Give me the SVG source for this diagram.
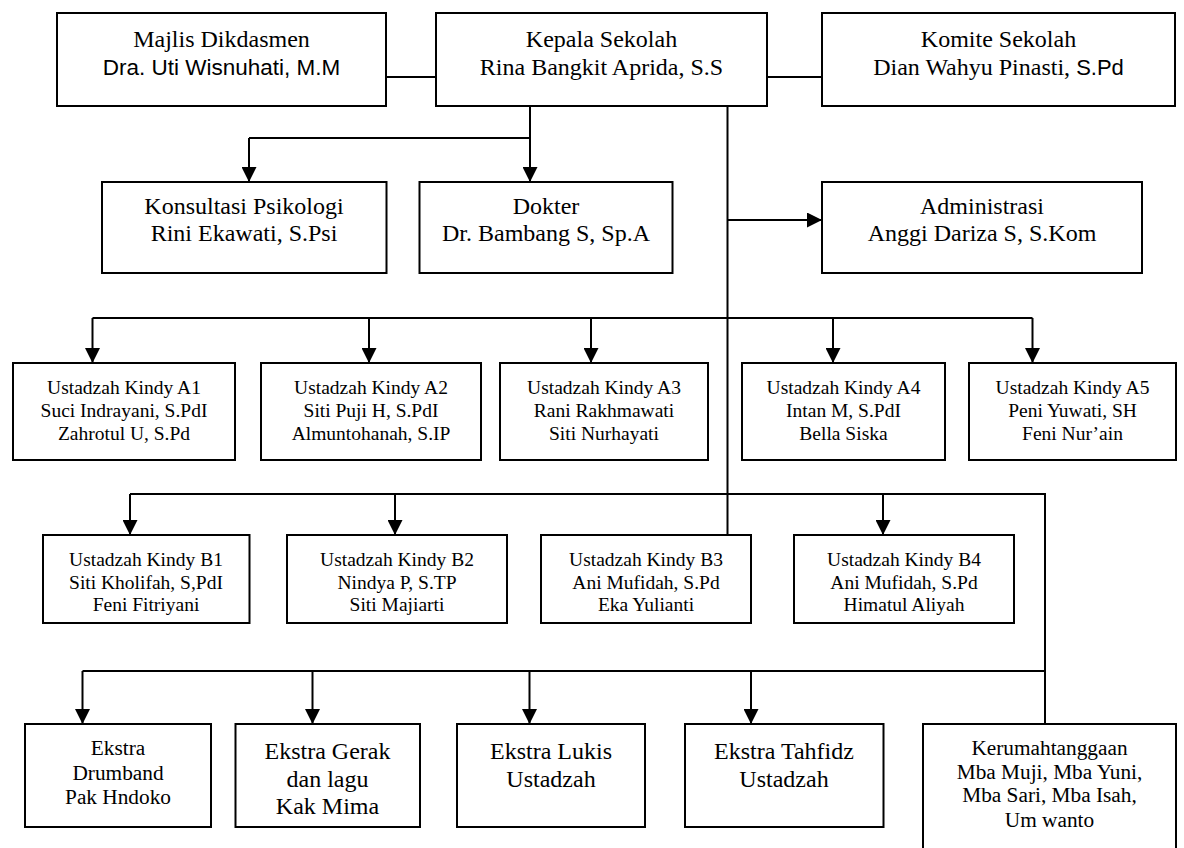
<svg xmlns="http://www.w3.org/2000/svg" width="1184" height="848" viewBox="0 0 1184 848">
  <style>
    .box { fill: #ffffff; stroke: #000000; stroke-width: 2; }
    .ln { fill: none; stroke: #000000; stroke-width: 2; }
    .arr { fill: none; stroke: #000000; stroke-width: 2; marker-end: url(#head); }
    text { font-family: "Liberation Serif", "Times New Roman", serif; fill: #000000; text-anchor: middle; }
    .t24 { font-size: 24px; }
    .t195 { font-size: 19.5px; }
    .t21 { font-size: 21.3px; }
    .sans { font-family: "Liberation Sans", Arial, sans-serif; }
  </style>
  <defs>
    <marker id="head" markerUnits="userSpaceOnUse" markerWidth="15" markerHeight="15" viewBox="0 0 15 15" refX="15" refY="7.5" orient="auto">
      <path d="M0,0 L15,7.5 L0,15 Z" fill="#000000"/>
    </marker>
  </defs>
  <rect width="1184" height="848" fill="#ffffff"/>

  <!-- connectors -->
  <g id="connectors">
    <path class="ln" d="M386,77 H436"/>
    <path class="ln" d="M767,77 H822"/>
    <path class="ln" d="M530,106 V138 H249"/>
    <path class="arr" d="M249,138 V182"/>
    <path class="arr" d="M530,138 V182"/>
    <path class="ln" d="M727.5,106 V535"/>
    <path class="arr" d="M727.5,220 H822"/>
    <!-- kindy A branch -->
    <path class="ln" d="M92.5,318 H1032.5"/>
    <path class="arr" d="M92.5,318 V363"/>
    <path class="arr" d="M369,318 V363"/>
    <path class="arr" d="M591,318 V363"/>
    <path class="arr" d="M833,318 V363"/>
    <path class="arr" d="M1032.5,318 V363"/>
    <!-- kindy B branch, continuing down to household staff -->
    <path class="ln" d="M130,494 H1045 V724"/>
    <path class="arr" d="M130,494 V535"/>
    <path class="arr" d="M395,494 V535"/>
    <path class="arr" d="M883,494 V535"/>
    <!-- extracurricular branch -->
    <path class="ln" d="M82.5,671 H1045"/>
    <path class="arr" d="M82.5,671 V724"/>
    <path class="arr" d="M312.5,671 V724"/>
    <path class="arr" d="M529.5,671 V724"/>
    <path class="arr" d="M751,671 V724"/>
  </g>

  <g id="majlis">
    <rect class="box" x="57" y="13" width="329" height="93"/>
    <text class="t24" x="221.5" y="46.5">Majlis Dikdasmen</text>
    <text class="sans" font-size="22.5" x="221.5" y="75">Dra. Uti Wisnuhati, M.M</text>
  </g>
  <g id="kepala">
    <rect class="box" x="436" y="13" width="331" height="93"/>
    <text class="t24" x="601.5" y="46.5">Kepala Sekolah</text>
    <text class="t24" x="601.5" y="75">Rina Bangkit Aprida, S.S</text>
  </g>
  <g id="komite">
    <rect class="box" x="822" y="13" width="353" height="93"/>
    <text class="t24" x="998.5" y="46.5">Komite Sekolah</text>
    <text class="t24" x="998.5" y="75">Dian Wahyu Pinasti, <tspan class="sans" font-size="22">S.Pd</tspan></text>
  </g>
  <g id="psikologi">
    <rect class="box" x="102" y="182" width="284.5" height="91"/>
    <text class="t24" x="244" y="214">Konsultasi Psikologi</text>
    <text class="t24" x="244" y="241">Rini Ekawati, S.Psi</text>
  </g>
  <g id="dokter">
    <rect class="box" x="419.5" y="182" width="253" height="91"/>
    <text class="t24" x="546" y="214">Dokter</text>
    <text class="t24" x="546" y="241">Dr. Bambang S, Sp.A</text>
  </g>
  <g id="administrasi">
    <rect class="box" x="822" y="182" width="320" height="91"/>
    <text class="t24" x="982" y="214">Administrasi</text>
    <text class="t24" x="982" y="241">Anggi Dariza S, S.Kom</text>
  </g>

  <g id="kindy-a1">
    <rect class="box" x="13" y="363" width="222" height="97"/>
    <text class="t195" x="124" y="393.5">Ustadzah Kindy A1</text>
    <text class="t195" x="124" y="416.5">Suci Indrayani, S.PdI</text>
    <text class="t195" x="124" y="439.5">Zahrotul U, S.Pd</text>
  </g>
  <g id="kindy-a2">
    <rect class="box" x="261" y="363" width="220" height="97"/>
    <text class="t195" x="371" y="393.5">Ustadzah Kindy A2</text>
    <text class="t195" x="371" y="416.5">Siti Puji H, S.PdI</text>
    <text class="t195" x="371" y="439.5">Almuntohanah, S.IP</text>
  </g>
  <g id="kindy-a3">
    <rect class="box" x="500" y="363" width="208" height="97"/>
    <text class="t195" x="604" y="393.5">Ustadzah Kindy A3</text>
    <text class="t195" x="604" y="416.5">Rani Rakhmawati</text>
    <text class="t195" x="604" y="439.5">Siti Nurhayati</text>
  </g>
  <g id="kindy-a4">
    <rect class="box" x="742" y="363" width="203" height="97"/>
    <text class="t195" x="843.5" y="393.5">Ustadzah Kindy A4</text>
    <text class="t195" x="843.5" y="416.5">Intan M, S.PdI</text>
    <text class="t195" x="843.5" y="439.5">Bella Siska</text>
  </g>
  <g id="kindy-a5">
    <rect class="box" x="969" y="363" width="207" height="97"/>
    <text class="t195" x="1072.5" y="393.5">Ustadzah Kindy A5</text>
    <text class="t195" x="1072.5" y="416.5">Peni Yuwati, SH</text>
    <text class="t195" x="1072.5" y="439.5">Feni Nur’ain</text>
  </g>

  <g id="kindy-b1">
    <rect class="box" x="43" y="535" width="206.5" height="88"/>
    <text class="t195" x="146" y="566">Ustadzah Kindy B1</text>
    <text class="t195" x="146" y="588.5">Siti Kholifah, S,PdI</text>
    <text class="t195" x="146" y="611">Feni Fitriyani</text>
  </g>
  <g id="kindy-b2">
    <rect class="box" x="287" y="535" width="220" height="88"/>
    <text class="t195" x="397" y="566">Ustadzah Kindy B2</text>
    <text class="t195" x="397" y="588.5">Nindya P, S.TP</text>
    <text class="t195" x="397" y="611">Siti Majiarti</text>
  </g>
  <g id="kindy-b3">
    <rect class="box" x="541" y="535" width="210" height="88"/>
    <text class="t195" x="646" y="566">Ustadzah Kindy B3</text>
    <text class="t195" x="646" y="588.5">Ani Mufidah, S.Pd</text>
    <text class="t195" x="646" y="611">Eka Yulianti</text>
  </g>
  <g id="kindy-b4">
    <rect class="box" x="794" y="535" width="220" height="88"/>
    <text class="t195" x="904" y="566">Ustadzah Kindy B4</text>
    <text class="t195" x="904" y="588.5">Ani Mufidah, S.Pd</text>
    <text class="t195" x="904" y="611">Himatul Aliyah</text>
  </g>

  <g id="ekstra-drumband">
    <rect class="box" x="25" y="724" width="186" height="103"/>
    <text class="t21" x="118" y="755">Ekstra</text>
    <text class="t21" x="118" y="779.5">Drumband</text>
    <text class="t21" x="118" y="804">Pak Hndoko</text>
  </g>
  <g id="ekstra-gerak">
    <rect class="box" x="235.5" y="724" width="184.5" height="103"/>
    <text class="t24" x="327.5" y="758.5">Ekstra Gerak</text>
    <text class="t24" x="327.5" y="786.5">dan lagu</text>
    <text class="t24" x="327.5" y="813.5">Kak Mima</text>
  </g>
  <g id="ekstra-lukis">
    <rect class="box" x="457" y="724" width="188" height="103"/>
    <text class="t24" x="551" y="758.5">Ekstra Lukis</text>
    <text class="t24" x="551" y="786.5">Ustadzah</text>
  </g>
  <g id="ekstra-tahfidz">
    <rect class="box" x="685" y="724" width="198.5" height="103"/>
    <text class="t24" x="784" y="758.5">Ekstra Tahfidz</text>
    <text class="t24" x="784" y="786.5">Ustadzah</text>
  </g>
  <g id="kerumahtanggaan">
    <rect class="box" x="923" y="724" width="253" height="140"/>
    <text class="t21" x="1049.5" y="755">Kerumahtanggaan</text>
    <text class="t21" x="1049.5" y="778.5">Mba Muji, Mba Yuni,</text>
    <text class="t21" x="1049.5" y="802">Mba Sari, Mba Isah,</text>
    <text class="t21" x="1049.5" y="827">Um wanto</text>
  </g>
</svg>
